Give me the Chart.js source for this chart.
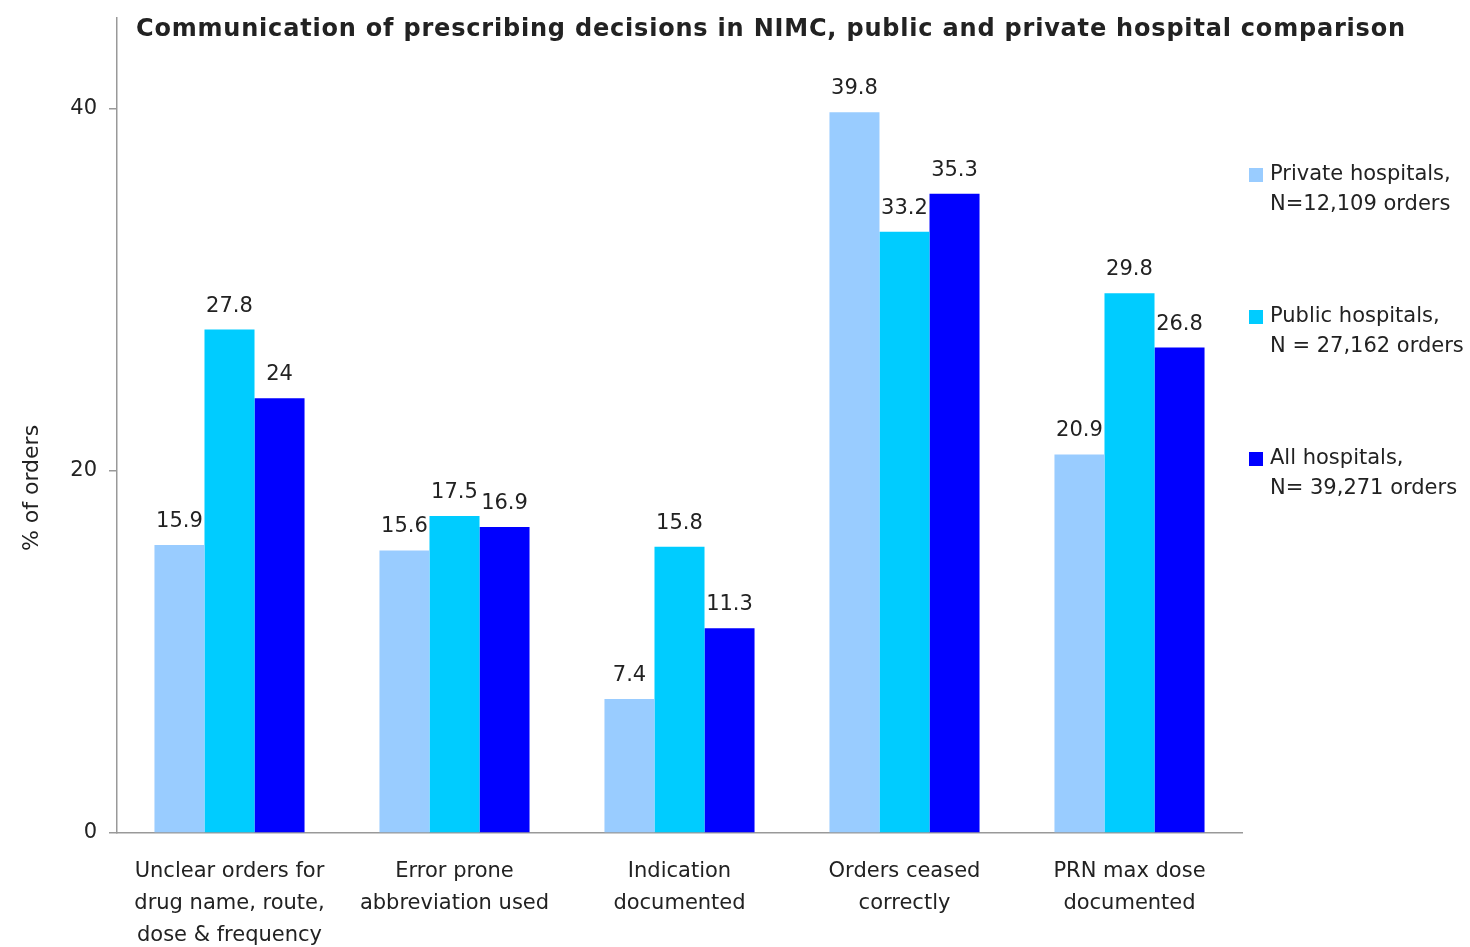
<!DOCTYPE html>
<html>
<head>
<meta charset="utf-8">
<script src="https://cdn.jsdelivr.net/npm/chart.js@4.4.1/dist/chart.umd.min.js"></script>
<style>
  html, body { margin: 0; padding: 0; background: #fff; }
  #wrap { width: 1470px; height: 947px; }
</style>
</head>
<body>
<div id="wrap"><canvas id="chart" width="1470" height="947"></canvas></div>
<script>
const chartTitle = 'Communication of prescribing decisions in NIMC, public and private hospital comparison';
const yTitle = '% of orders';

const categories = [
  ['Unclear orders for', 'drug name, route,', 'dose & frequency'],
  ['Error prone', 'abbreviation used'],
  ['Indication', 'documented'],
  ['Orders ceased', 'correctly'],
  ['PRN max dose', 'documented']
];

const seriesNames = [
  ['Private hospitals,', 'N=12,109 orders'],
  ['Public hospitals,', 'N = 27,162 orders'],
  ['All hospitals,', 'N= 39,271 orders']
];

const privateValues = [15.9, 15.6, 7.4, 39.8, 20.9];
const publicValues = [27.8, 17.5, 15.8, 33.2, 29.8];
const allValues = [24, 16.9, 11.3, 35.3, 26.8];

const yTicks = [0, 20, 40];
const colors = ['#99ccff', '#00ccff', '#0000ff'];

const textColor = '#222';
const axisColor = '#999';
const font = 'DejaVu Sans';

// value labels above each bar, plus title, y title and the side legend
const extras = {
  id: 'extras',
  afterDatasetsDraw(chart) {
    const { ctx, chartArea } = chart;
    ctx.save();
    ctx.fillStyle = textColor;
    ctx.font = '21px "' + font + '"';
    ctx.textAlign = 'center';
    ctx.textBaseline = 'alphabetic';
    chart.data.datasets.forEach((ds, i) => {
      chart.getDatasetMeta(i).data.forEach((bar, j) => {
        ctx.fillText(String(ds.data[j]), bar.x, bar.y - 18);
      });
    });

    // chart title
    ctx.font = 'bold 24px "' + font + '"';
    ctx.letterSpacing = '0.8px';
    ctx.textAlign = 'left';
    ctx.textBaseline = 'middle';
    ctx.fillText(chartTitle, chartArea.left + 19, chartArea.top + 12);
    ctx.letterSpacing = '0px';

    // y axis title
    ctx.save();
    ctx.font = '22px "' + font + '"';
    ctx.textAlign = 'center';
    ctx.translate(32, chartArea.top + 470);
    ctx.rotate(-Math.PI / 2);
    ctx.fillText(yTitle, 0, 0);
    ctx.restore();

    // legend
    ctx.font = '21px "' + font + '"';
    ctx.textAlign = 'left';
    seriesNames.forEach((lines, i) => {
      const y = chartArea.top + 157 + i * 142;
      ctx.fillStyle = colors[i];
      ctx.fillRect(chartArea.right + 7, y - 7, 14, 14);
      ctx.fillStyle = textColor;
      lines.forEach((line, k) => {
        ctx.fillText(line, chartArea.right + 28, y + k * 30);
      });
    });
    ctx.restore();
  }
};

new Chart(document.getElementById('chart'), {
  type: 'bar',
  data: {
    labels: categories,
    datasets: [
      { label: seriesNames[0].join(' '), data: privateValues, backgroundColor: colors[0] },
      { label: seriesNames[1].join(' '), data: publicValues, backgroundColor: colors[1] },
      { label: seriesNames[2].join(' '), data: allValues, backgroundColor: colors[2] }
    ]
  },
  options: {
    responsive: false,
    animation: false,
    layout: { padding: { top: 18, right: 228, bottom: 0, left: 0 } },
    datasets: {
      bar: { categoryPercentage: 0.667, barPercentage: 1.0, borderWidth: 0 }
    },
    plugins: {
      legend: { display: false },
      tooltip: { enabled: false }
    },
    scales: {
      x: {
        grid: { drawOnChartArea: false, drawTicks: false },
        border: { color: axisColor, width: 1.5 },
        ticks: {
          color: textColor,
          padding: 23,
          maxRotation: 0,
          autoSkip: false,
          font: { family: font, size: 21, lineHeight: 1.52 }
        },
        afterFit(scale) { scale.height = 114; }
      },
      y: {
        min: 0,
        max: 45,
        grid: { drawOnChartArea: false, color: axisColor, tickLength: 8, lineWidth: 1.5 },
        border: { color: axisColor, width: 1.5 },
        ticks: {
          color: textColor,
          padding: 12,
          stepSize: 20,
          font: { family: font, size: 21 }
        },
        afterBuildTicks(scale) {
          scale.ticks = yTicks.map(v => ({ value: v }));
        },
        afterFit(scale) {
          scale.width = 117;
          scale.paddingTop = 0;
          scale.paddingBottom = 0;
        }
      }
    }
  },
  plugins: [extras]
});
</script>
</body>
</html>
